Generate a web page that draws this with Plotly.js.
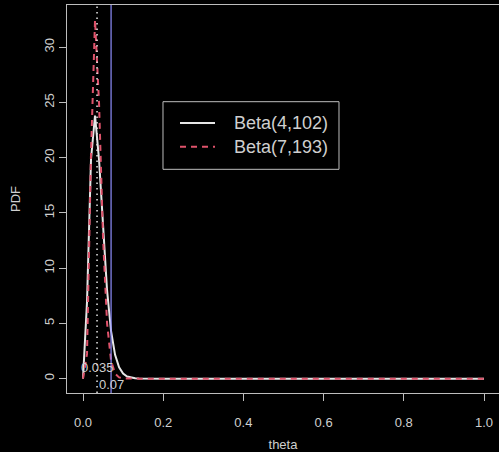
<!DOCTYPE html>
<html>
<head>
<meta charset="utf-8">
<script src="https://cdn.plot.ly/plotly-3.0.1.min.js"></script>
<style>
html,body{margin:0;padding:0;background:#000;}
#chart{width:499px;height:452px;}
</style>
</head>
<body>
<div id="chart"></div>
<script>
// theta grid (as drawn by the original curve)
var theta = [0, 0.01, 0.02, 0.03, 0.04, 0.05, 0.06, 0.07, 0.08, 0.09, 0.10,
             0.11, 0.12, 0.13, 0.14, 0.15, 0.16, 0.17, 0.18, 0.19, 0.20,
             0.25, 0.30, 0.35, 0.40, 0.45, 0.50, 0.55, 0.60, 0.65, 0.70,
             0.75, 0.80, 0.85, 0.90, 0.95, 1.00];
// Beta(4,102) density values
var pdfA = [0, 6.93, 19.88, 23.81, 19.82, 13.44, 7.98, 4.30, 2.15, 1.02, 0.457,
            0.197, 0.0816, 0.0327, 0.0127, 0.0048, 0.0018, 0.0006, 0.0002, 0.0001, 0,
            0, 0, 0, 0, 0, 0, 0, 0, 0, 0,
            0, 0, 0, 0, 0, 0];
// Beta(7,193) density values
var pdfB = [0, 2.24, 20.41, 32.45, 24.93, 12.74, 4.99, 1.61, 0.451, 0.112, 0.0253,
            0.0052, 0.0010, 0.0002, 0, 0, 0, 0, 0, 0, 0,
            0, 0, 0, 0, 0, 0, 0, 0, 0, 0,
            0, 0, 0, 0, 0, 0];
var seriesNames = ["Beta(4,102)", "Beta(7,193)"];
// reference vertical lines and their labels
var refX = [0.035, 0.07];
var refLabels = ["0.035", "0.07"];
var refLabelY = [1.0, -0.5];
var xTicks = [0, 0.2, 0.4, 0.6, 0.8, 1.0];
var xTickText = ["0.0", "0.2", "0.4", "0.6", "0.8", "1.0"];
var yTicks = [0, 5, 10, 15, 20, 25, 30];

var fontFam = "Liberation Sans, Arial, Helvetica, sans-serif";
var fg = "#cfcfcf";
var boxCol = "#bdbdbd";
var lineStyles = [
  {color: "#e6e6e6", width: 2},
  {color: "#DF536B", width: 2, dash: "6px,5px"}
];

var traces = seriesNames.map(function(nm, i){
  return {x: theta, y: i === 0 ? pdfA : pdfB, name: nm, type: "scatter",
          mode: "lines", line: lineStyles[i], showlegend: false};
});

var shapes = [
  {type: "line", xref: "x", yref: "paper", x0: refX[0], x1: refX[0], y0: 0, y1: 1,
   line: {color: "#e6e6e6", width: 1.5, dash: "1.5px,4px"}},
  {type: "line", xref: "x", yref: "paper", x0: refX[1], x1: refX[1], y0: 0, y1: 1,
   line: {color: "#8f8fff", width: 1.2}}
];

var annotations = refX.map(function(v, i){
  return {x: v, y: refLabelY[i], xref: "x", yref: "y", text: refLabels[i],
          showarrow: false, xanchor: "center", yanchor: "middle",
          font: {family: fontFam, size: 13, color: fg}};
});

// legend drawn in R style (box, line samples, labels)
var legBox = {x0: 0.2222, x1: 0.6296, y0: 0.5765, y1: 0.7508};
var legRowY = [0.6959, 0.6348];
var legLineX = [0.2616, 0.3426];
var legTextX = 0.3819;
shapes.push({type: "rect", xref: "paper", yref: "paper",
             x0: legBox.x0, x1: legBox.x1, y0: legBox.y0, y1: legBox.y1,
             line: {color: boxCol, width: 1}, fillcolor: "rgba(0,0,0,0)"});
seriesNames.forEach(function(nm, i){
  shapes.push({type: "line", xref: "paper", yref: "paper",
               x0: legLineX[0], x1: legLineX[1], y0: legRowY[i], y1: legRowY[i],
               line: lineStyles[i]});
  annotations.push({x: legTextX, y: legRowY[i], xref: "paper", yref: "paper",
                    text: nm, showarrow: false, xanchor: "left", yanchor: "middle",
                    font: {family: fontFam, size: 18, color: fg}});
});

var layout = {
  width: 499, height: 452,
  paper_bgcolor: "#000", plot_bgcolor: "#000",
  margin: {l: 67, r: 0, t: 5, b: 59},
  font: {family: fontFam, size: 13, color: fg},
  showlegend: false,
  xaxis: {range: [-0.0399, 1.0374], tickvals: xTicks, ticktext: xTickText,
          showgrid: false, zeroline: false, showline: true, mirror: true,
          linecolor: boxCol, linewidth: 1, ticks: "outside", ticklen: 7,
          tickcolor: boxCol, tickfont: {family: fontFam, size: 13, color: fg},
          ticklabelstandoff: 10,
          title: {text: "theta", font: {family: fontFam, size: 13, color: fg}, standoff: 20}},
  yaxis: {range: [-1.30, 33.81], tickvals: yTicks, tickangle: -90,
          showgrid: false, zeroline: false, showline: true, mirror: false,
          linecolor: boxCol, linewidth: 1, ticks: "outside", ticklen: 7,
          tickcolor: boxCol, tickfont: {family: fontFam, size: 13, color: fg},
          title: {text: "PDF", font: {family: fontFam, size: 13, color: fg}, standoff: 18}},
  shapes: shapes,
  annotations: annotations
};

Plotly.newPlot("chart", traces, layout, {displayModeBar: false, staticPlot: true});
</script>
</body>
</html>
